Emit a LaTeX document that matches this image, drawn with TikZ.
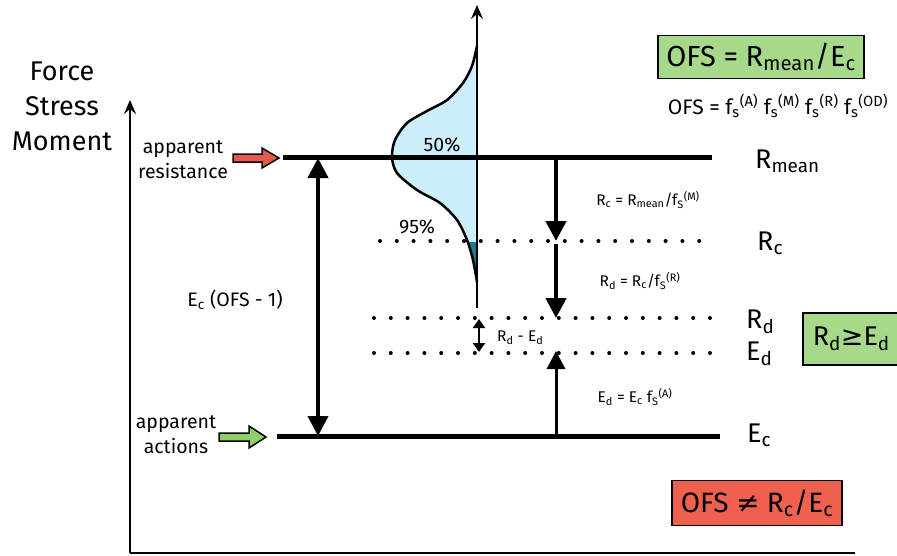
\documentclass[tikz,border=0pt]{standalone}
\usepackage{fontspec}
\setmainfont{Fira Sans}
\newfontfamily\symf{DejaVu Sans}
\usetikzlibrary{arrows.meta}
\definecolor{bellblue}{HTML}{CDEEFB}
\definecolor{belldark}{HTML}{1F7893}
\definecolor{okgreen}{HTML}{A6D98A}
\definecolor{badred}{HTML}{F0604F}
\definecolor{redarrow}{HTML}{E8574C}
\definecolor{greenarrow}{HTML}{8FCF6A}
\newcommand{\dn}[1]{\textsubscript{#1}}
\newcommand{\up}[1]{\textsuperscript{#1}}
\tikzset{
  thickline/.style={line width=5pt},
  axisline/.style={line width=2pt},
  bigarrow/.style={line width=4.5pt,-{Triangle[length=20pt,width=20pt]}},
  dotline/.style={line width=4pt,line cap=round,dash pattern=on 0pt off 16.8pt},
  lbl/.style={inner sep=0pt,font=\fontsize{19.5}{22}\selectfont},
  small/.style={inner sep=0pt,font=\fontsize{15.5}{17}\selectfont},
  big/.style={inner sep=0pt,font=\fontsize{27}{30}\selectfont},
  blockarrow/.style={draw=black,line width=1.5pt,line join=miter},
  formulabox/.style={draw=black,line width=1.5pt,inner xsep=6pt,inner ysep=4pt}
}
\begin{document}
\begin{tikzpicture}[x=1pt,y=-1pt]
\useasboundingbox (0,0) rectangle (897,555);

% axes of the chart
\coordinate (origin) at (130,553);
\coordinate (ytop) at (130,100);
\coordinate (xend) at (855,553);
\draw[line width=2.5pt,-{Stealth[length=14pt,width=12pt,inset=5pt]}] (origin) -- (ytop);
\draw[axisline] (origin) -- (xend);
\node[inner sep=0pt,align=center,font=\fontsize{27}{35}\selectfont] (ylabel) at (62,106) {Force\\Stress\\Moment};

% distribution of the resistance
\begin{scope}
\fill[bellblue] (477,46) plot[smooth] coordinates {(477,46) (472,66) (463,83) (447,100) (427,111) (407,123) (395,140) (392,157) (397,173) (417,190) (440,203) (457,220) (467,240) (473,260) (477,282)} -- cycle;
\clip (430,242) rectangle (480,272);
\fill[belldark] (477,46) plot[smooth] coordinates {(477,46) (472,66) (463,83) (447,100) (427,111) (407,123) (395,140) (392,157) (397,173) (417,190) (440,203) (457,220) (467,240) (473,260) (477,282)} -- cycle;
\end{scope}
\draw[line width=2.5pt] plot[smooth] coordinates {(477,46) (472,66) (463,83) (447,100) (427,111) (407,123) (395,140) (392,157) (397,173) (417,190) (440,203) (457,220) (467,240) (473,260) (477,282)};
\coordinate (cbot) at (477,308);
\coordinate (ctop) at (477,5);
\draw[line width=2.5pt,-{Stealth[length=14pt,width=12pt,inset=5pt]}] (cbot) -- (ctop);
\node[lbl] (p50) at (442,145) {50\%};
\node[lbl] (p95) at (417,227) {95\%};

% resistance and action levels
\coordinate (rmL) at (283,157);
\coordinate (rmR) at (712,157);
\draw[thickline] (rmL) -- (rmR);
\coordinate (ecL) at (277,436);
\coordinate (ecR) at (720,436);
\draw[thickline] (ecL) -- (ecR);

\coordinate (rcL) at (380,241);
\coordinate (rcR) at (700,241);
\draw[dotline] (rcL) -- (rcR);
\coordinate (rdL) at (374,318);
\coordinate (rdR) at (712,318);
\draw[dotline] (rdL) -- (rdR);
\coordinate (edL) at (374,353);
\coordinate (edR) at (712,353);
\draw[dotline] (edL) -- (edR);

% level names
\node[big,anchor=west] (rmean) at (755,161) {R\dn{mean}};
\node[big,anchor=west] (rc) at (757,243) {R\dn{c}};
\node[big,anchor=west] (rd) at (746,322) {R\dn{d}};
\node[big,anchor=west] (ed) at (746,354) {E\dn{d}};
\node[big,anchor=west] (ec) at (747,435) {E\dn{c}};

% partial factors
\coordinate (a1s) at (556,160);
\coordinate (a1e) at (556,241);
\draw[bigarrow] (a1s) -- (a1e);
\coordinate (a2s) at (556,244);
\coordinate (a2e) at (556,318);
\draw[bigarrow] (a2s) -- (a2e);
\coordinate (a3s) at (556,436);
\coordinate (a3e) at (556,351);
\draw[line width=3pt,-{Triangle[length=18pt,width=18pt]}] (a3s) -- (a3e);
\node[small] (frc) at (648,200) {R\dn{c} = R\dn{mean}/f\dn{S}\up{(M)}};
\node[small] (frd) at (640,281) {R\dn{d} = R\dn{c}/f\dn{S}\up{(R)}};
\node[small] (fed) at (635,397) {E\dn{d} = E\dn{c} f\dn{S}\up{(A)}};

% margin between design values
\coordinate (m1) at (479,319);
\coordinate (m2) at (479,352);
\draw[line width=2pt,{Triangle[length=9pt,width=12pt]}-{Triangle[length=9pt,width=12pt]}] (m1) -- (m2);
\node[small,anchor=west] (marg) at (497,338) {R\dn{d} - E\dn{d}};

% global factor between levels
\coordinate (g1) at (318,158);
\coordinate (g2) at (318,436);
\draw[line width=4pt,{Triangle[length=20pt,width=20pt]}-{Triangle[length=20pt,width=20pt]}] (g1) -- (g2);
\node[lbl] (ecofs) at (235,300) {E\dn{c} (OFS - 1)};

% apparent resistance and actions
\node[lbl,align=center,font=\fontsize{19.5}{25}\selectfont] (appres) at (183,160) {apparent\\resistance};
\draw[blockarrow,fill=redarrow] (233,154) -- (262,154) -- (262,148) -- (279,158) -- (262,168) -- (262,162) -- (233,162) -- cycle;
\node[lbl,align=center,font=\fontsize{19.5}{25}\selectfont] (appact) at (176,435) {apparent\\actions};
\draw[blockarrow,fill=greenarrow] (219,433) -- (249,433) -- (249,426) -- (266,437) -- (249,448) -- (249,441) -- (219,441) -- cycle;

% formulas
\node[formulabox,fill=okgreen,font=\fontsize{29}{32}\selectfont,minimum width=206pt,minimum height=43pt] (ofs) at (761,57) {OFS = R\dn{mean}/E\dn{c}};
\node[inner sep=0pt,font=\fontsize{21}{24}\selectfont] (ofsprod) at (778,106) {OFS = f\dn{s}\up{(A)} f\dn{s}\up{(M)} f\dn{s}\up{(R)} f\dn{s}\up{(OD)}};
\node[formulabox,fill=okgreen,font=\fontsize{27}{30}\selectfont,anchor=west,minimum width=110pt,minimum height=52pt,align=left,text width=90pt] (cond) at (802,339) {R\dn{d}{\symf ≥}E\dn{d}};
\node[formulabox,fill=badred,font=\fontsize{28}{30}\selectfont,minimum width=170pt,minimum height=45pt] (neq) at (757,503) {OFS {\symf ≠} R\dn{c}/E\dn{c}};
\end{tikzpicture}
\end{document}
